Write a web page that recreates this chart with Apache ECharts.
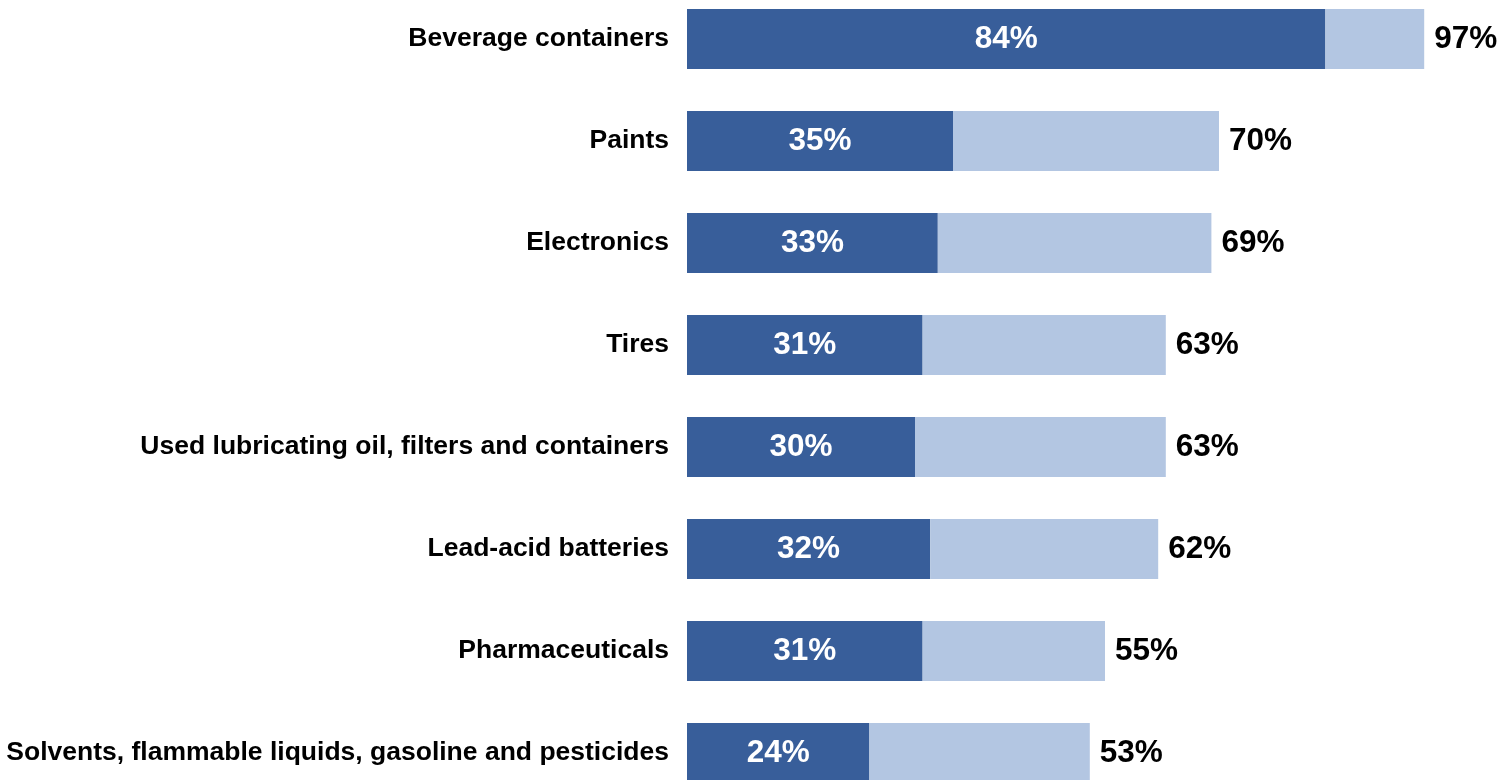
<!DOCTYPE html>
<html>
<head>
<meta charset="utf-8">
<script src="https://cdn.jsdelivr.net/npm/echarts@6/dist/echarts.min.js"></script>
<style>
  html, body { margin: 0; padding: 0; background: #ffffff; }
  #chart { width: 1501px; height: 780px; }
</style>
</head>
<body>
<div id="chart"></div>
<script>
// Product categories, top to bottom
const categories = [
  'Beverage containers',
  'Paints',
  'Electronics',
  'Tires',
  'Used lubricating oil, filters and containers',
  'Lead-acid batteries',
  'Pharmaceuticals',
  'Solvents, flammable liquids, gasoline and pesticides'
];
// Inner (dark) share, percent
const innerValues = [84, 35, 33, 31, 30, 32, 31, 24];
// Overall share, percent (end of the light bar)
const totalValues = [97, 70, 69, 63, 63, 62, 55, 53];

// Light segment is the remainder stacked on the dark one
const remainder = totalValues.map((t, i) => t - innerValues[i]);

const FONT = '"Liberation Sans", Arial, Helvetica, sans-serif';

const chart = echarts.init(document.getElementById('chart'), null, { renderer: 'canvas' });

chart.setOption({
  backgroundColor: '#ffffff',
  animation: false,
  // categories sit on the ticks, first row centred at y=39, last at y=753
  grid: { left: 687, width: 760, top: 39, height: 714 },
  xAxis: {
    type: 'value',
    min: 0,
    max: 100,
    show: false
  },
  yAxis: {
    type: 'category',
    data: categories,
    inverse: true,
    boundaryGap: false,
    axisLine: { show: false },
    axisTick: { show: false },
    splitLine: { show: false },
    axisLabel: {
      margin: 18,
      color: '#000000',
      fontFamily: FONT,
      fontWeight: 'bold',
      fontSize: 26.5
    }
  },
  series: [
    {
      name: 'inner',
      type: 'bar',
      stack: 'total',
      barWidth: 60,
      data: innerValues,
      itemStyle: { color: '#385E9A' },
      label: {
        show: true,
        position: 'inside',
        color: '#ffffff',
        fontFamily: FONT,
        fontWeight: 'bold',
        fontSize: 31.5,
        formatter: p => innerValues[p.dataIndex] + '%'
      }
    },
    {
      name: 'total',
      type: 'bar',
      stack: 'total',
      barWidth: 60,
      data: remainder,
      itemStyle: { color: '#B3C6E2' },
      label: {
        show: true,
        position: 'right',
        distance: 10,
        color: '#000000',
        fontFamily: FONT,
        fontWeight: 'bold',
        fontSize: 31.5,
        formatter: p => totalValues[p.dataIndex] + '%'
      }
    }
  ]
});
</script>
</body>
</html>
